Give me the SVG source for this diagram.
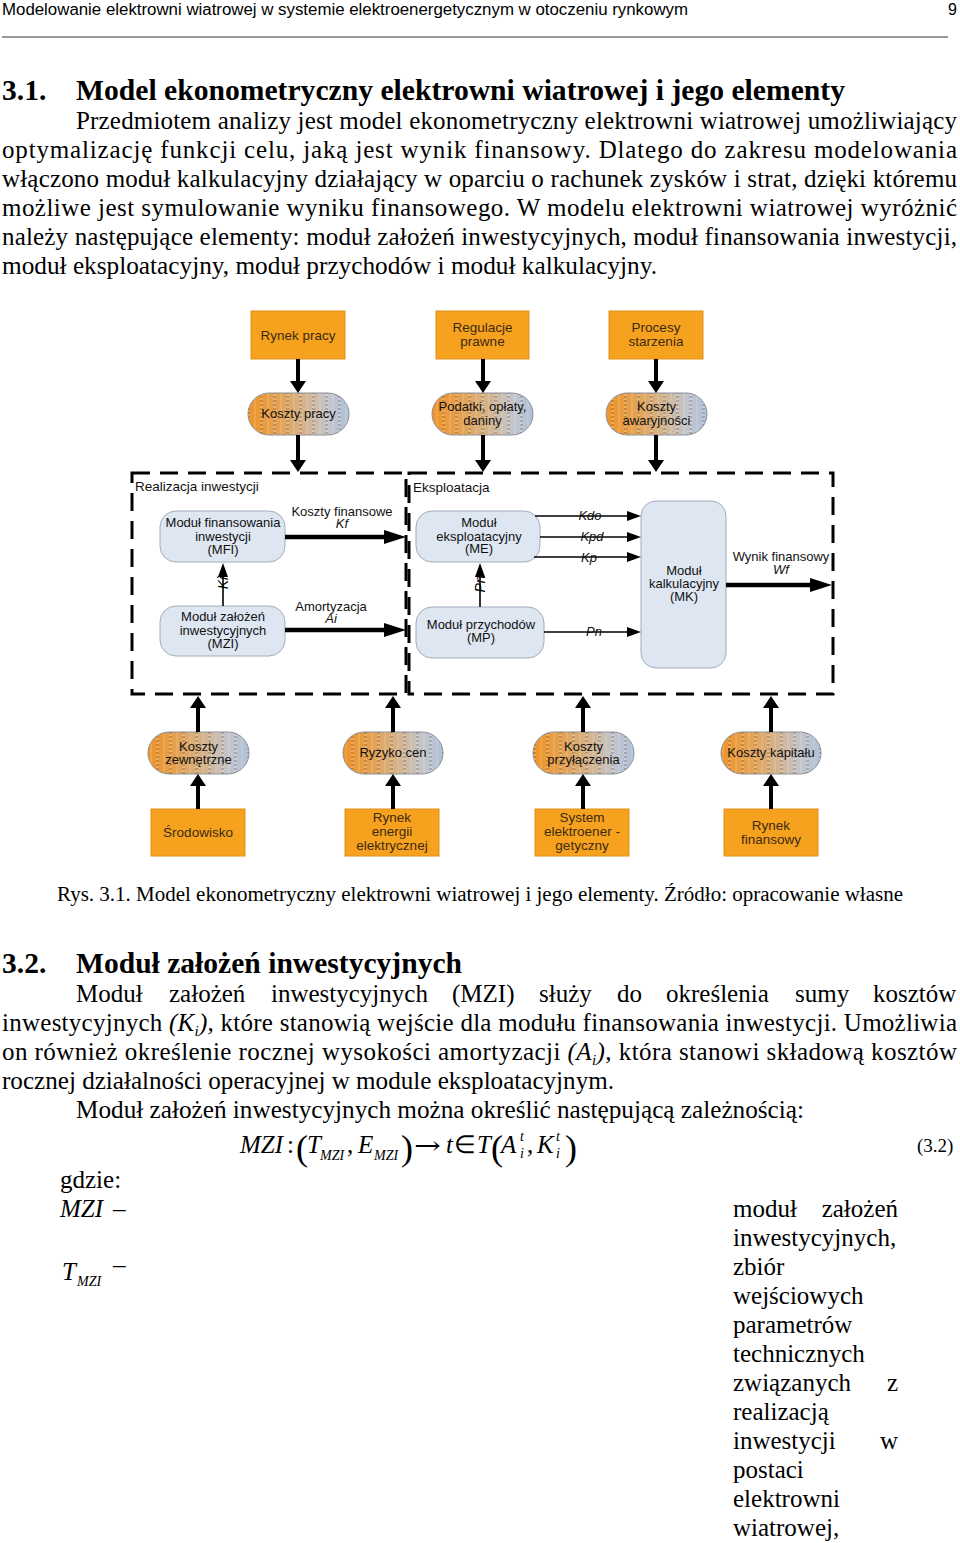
<svg xmlns="http://www.w3.org/2000/svg" width="960" height="1543" viewBox="0 0 960 1543">
<style>
.hdr{font-family:"Liberation Sans",Arial,sans-serif;font-size:16px;fill:#000}
.h{font-family:"Liberation Serif","Times New Roman",serif;font-size:29.5px;font-weight:bold;fill:#000}
.p{font-family:"Liberation Serif","Times New Roman",serif;font-size:25px;fill:#000}
.cap{font-family:"Liberation Serif","Times New Roman",serif;font-size:20px;fill:#000}
.it{font-style:italic}
.sub{font-size:15px}
.sm{font-family:"Liberation Serif","Times New Roman",serif;font-size:14px;font-style:italic;fill:#000}
.d{font-family:"Liberation Sans",Arial,sans-serif;font-size:13px;fill:#111;text-anchor:middle}
.dl{font-family:"Liberation Sans",Arial,sans-serif;font-size:13.5px;fill:#111}
.di{font-family:"Liberation Sans",Arial,sans-serif;font-size:13px;font-style:italic;fill:#111;text-anchor:middle}
.dr{font-family:"Liberation Sans",Arial,sans-serif;font-size:14px;font-style:italic;fill:#000;text-anchor:middle}
.ob{fill:#F7A21E;stroke:#E0901A;stroke-width:1}
.obt{font-family:"Liberation Sans",Arial,sans-serif;font-size:13.5px;fill:#3a2a12;text-anchor:middle}
.capsule{fill:url(#capg);stroke:#8a8f99;stroke-width:1}
.capst{fill:url(#stripes);stroke:none}
.mod{fill:#DEE6F1;stroke:#A3ACBB;stroke-width:1}
.frame{fill:none;stroke:#000;stroke-width:3;stroke-dasharray:18 10}
.aV{stroke:#000;stroke-width:4;fill:none;marker-end:url(#mV)}
.aH{stroke:#000;stroke-width:4.5;fill:none;marker-end:url(#mH)}
.aT{stroke:#000;stroke-width:1.6;fill:none;marker-end:url(#mT)}
</style>
<defs>
<linearGradient id="capg" x1="0" y1="0" x2="1" y2="0">
<stop offset="0" stop-color="#EF9428"/>
<stop offset="0.3" stop-color="#E4A252"/>
<stop offset="0.55" stop-color="#D5B38A"/>
<stop offset="0.8" stop-color="#C2C5CC"/>
<stop offset="1" stop-color="#AFC1D8"/>
</linearGradient>
<pattern id="stripes" patternUnits="userSpaceOnUse" width="13" height="4">
<rect x="0" y="0" width="3" height="2" fill="#5a4630" opacity="0.22"/>
<rect x="0" y="2" width="3" height="2" fill="#ffffff" opacity="0.18"/>
<rect x="7" y="0" width="2" height="4" fill="#ffffff" opacity="0.12"/>
</pattern>
<marker id="mV" markerUnits="userSpaceOnUse" viewBox="0 0 12 16" markerWidth="12" markerHeight="16" refX="0" refY="8" orient="auto"><path d="M0,0 L12,8 L0,16 z" fill="#000"/></marker>
<marker id="mH" markerUnits="userSpaceOnUse" viewBox="0 0 22 14" markerWidth="22" markerHeight="14" refX="0" refY="7" orient="auto"><path d="M0,0 L22,7 L0,14 z" fill="#000"/></marker>
<marker id="mT" markerUnits="userSpaceOnUse" viewBox="0 0 14 10" markerWidth="14" markerHeight="10" refX="0" refY="5" orient="auto"><path d="M0,0 L14,5 L0,10 z" fill="#000"/></marker>
</defs>
<rect x="0" y="0" width="960" height="1543" fill="#fff"/>

<!-- page header -->
<text class="hdr" x="2" y="15" textLength="686" lengthAdjust="spacingAndGlyphs">Modelowanie elektrowni wiatrowej w systemie elektroenergetycznym w otoczeniu rynkowym</text>
<text class="hdr" x="948" y="15">9</text>
<line x1="2" y1="37" x2="948" y2="37" stroke="#000" stroke-width="0.8"/>

<!-- heading 3.1 -->
<text class="h" x="2" y="100">3.1.</text>
<text class="h" x="76" y="100" textLength="769" lengthAdjust="spacingAndGlyphs">Model ekonometryczny elektrowni wiatrowej i jego elementy</text>

<text class="p" x="76" y="129" textLength="881" lengthAdjust="spacing">Przedmiotem analizy jest model ekonometryczny elektrowni wiatrowej umożliwiający</text>
<text class="p" x="2" y="158" textLength="955" lengthAdjust="spacing">optymalizację funkcji celu, jaką jest wynik finansowy. Dlatego do zakresu modelowania</text>
<text class="p" x="2" y="187" textLength="955" lengthAdjust="spacing">włączono moduł kalkulacyjny działający w oparciu o rachunek zysków i strat, dzięki któremu</text>
<text class="p" x="2" y="216" textLength="955" lengthAdjust="spacing">możliwe jest symulowanie wyniku finansowego. W modelu elektrowni wiatrowej wyróżnić</text>
<text class="p" x="2" y="245" textLength="955" lengthAdjust="spacing">należy następujące elementy: moduł założeń inwestycyjnych, moduł finansowania inwestycji,</text>
<text class="p" x="2" y="274" textLength="655" lengthAdjust="spacingAndGlyphs">moduł eksploatacyjny, moduł przychodów i moduł kalkulacyjny.</text>

<!-- ===== diagram ===== -->
<g id="frames">
<path class="frame" d="M132,473 H406 V694 H132 Z"/>
<path class="frame" d="M409,473 H833 V694 H409 Z"/>
<text class="dl" x="135" y="491">Realizacja inwestycji</text>
<text class="dl" x="413" y="492">Eksploatacja</text>
</g>

<g id="n-rynek-pracy"><rect class="ob" x="251" y="311" width="94" height="48"/><text class="obt" x="298" y="340">Rynek pracy</text></g>
<g id="n-regulacje"><rect class="ob" x="436" y="311" width="93" height="48"/><text class="obt" x="482.5" y="332">Regulacje</text><text class="obt" x="482.5" y="346">prawne</text></g>
<g id="n-procesy"><rect class="ob" x="609" y="311" width="94" height="48"/><text class="obt" x="656" y="332">Procesy</text><text class="obt" x="656" y="346">starzenia</text></g>

<g id="n-koszty-pracy"><rect class="capsule" x="248" y="393" width="101" height="42" rx="21"/><rect class="capst" x="248" y="393" width="101" height="42" rx="21"/><text class="d" x="298.5" y="418">Koszty pracy</text></g>
<g id="n-podatki"><rect class="capsule" x="432" y="393" width="101" height="42" rx="21"/><rect class="capst" x="432" y="393" width="101" height="42" rx="21"/><text class="d" x="482.5" y="411">Podatki, opłaty,</text><text class="d" x="482.5" y="425">daniny</text></g>
<g id="n-koszty-awar"><rect class="capsule" x="606" y="393" width="101" height="42" rx="21"/><rect class="capst" x="606" y="393" width="101" height="42" rx="21"/><text class="d" x="656.5" y="411">Koszty</text><text class="d" x="656.5" y="425">awaryjności</text></g>

<g id="n-mfi"><rect class="mod" x="160" y="511" width="125" height="51" rx="16"/><text class="d" x="223" y="527">Moduł finansowania</text><text class="d" x="223" y="541">inwestycji</text><text class="d" x="223" y="554">(MFI)</text></g>
<g id="n-mzi"><rect class="mod" x="160" y="606" width="125" height="50" rx="16"/><text class="d" x="223" y="621">Moduł założeń</text><text class="d" x="223" y="635">inwestycyjnych</text><text class="d" x="223" y="648">(MZI)</text></g>
<g id="n-me"><rect class="mod" x="416" y="511" width="124" height="51" rx="16"/><text class="d" x="479" y="527">Moduł</text><text class="d" x="479" y="541">eksploatacyjny</text><text class="d" x="479" y="553">(ME)</text></g>
<g id="n-mp"><rect class="mod" x="416" y="607" width="128" height="51" rx="16"/><text class="d" x="481" y="629">Moduł przychodów</text><text class="d" x="481" y="642">(MP)</text></g>
<g id="n-mk"><rect class="mod" x="641" y="501" width="85" height="167" rx="15"/><text class="d" x="684" y="575">Moduł</text><text class="d" x="684" y="588">kalkulacyjny</text><text class="d" x="684" y="601">(MK)</text></g>

<g id="n-koszty-zew"><rect class="capsule" x="148" y="732" width="101" height="42" rx="21"/><rect class="capst" x="148" y="732" width="101" height="42" rx="21"/><text class="d" x="198.5" y="751">Koszty</text><text class="d" x="198.5" y="764">zewnętrzne</text></g>
<g id="n-ryzyko"><rect class="capsule" x="343" y="732" width="100" height="42" rx="21"/><rect class="capst" x="343" y="732" width="100" height="42" rx="21"/><text class="d" x="393" y="757">Ryzyko cen</text></g>
<g id="n-koszty-przyl"><rect class="capsule" x="533" y="732" width="101" height="42" rx="21"/><rect class="capst" x="533" y="732" width="101" height="42" rx="21"/><text class="d" x="583.5" y="751">Koszty</text><text class="d" x="583.5" y="764">przyłączenia</text></g>
<g id="n-koszty-kap"><rect class="capsule" x="721" y="732" width="100" height="42" rx="21"/><rect class="capst" x="721" y="732" width="100" height="42" rx="21"/><text class="d" x="771" y="757">Koszty kapitału</text></g>

<g id="n-srodowisko"><rect class="ob" x="151" y="809" width="94" height="47"/><text class="obt" x="198" y="837">Środowisko</text></g>
<g id="n-rynek-energii"><rect class="ob" x="345" y="809" width="94" height="47"/><text class="obt" x="392" y="822">Rynek</text><text class="obt" x="392" y="836">energii</text><text class="obt" x="392" y="850">elektrycznej</text></g>
<g id="n-system"><rect class="ob" x="535" y="809" width="94" height="47"/><text class="obt" x="582" y="822">System</text><text class="obt" x="582" y="836">elektroener -</text><text class="obt" x="582" y="850">getyczny</text></g>
<g id="n-rynek-fin"><rect class="ob" x="724" y="809" width="94" height="47"/><text class="obt" x="771" y="830">Rynek</text><text class="obt" x="771" y="844">finansowy</text></g>

<g id="connectors">
<line class="aV" x1="298" y1="359" x2="298" y2="381"/>
<line class="aV" x1="483" y1="359" x2="483" y2="381"/>
<line class="aV" x1="656" y1="359" x2="656" y2="381"/>
<line class="aV" x1="298" y1="435" x2="298" y2="460"/>
<line class="aV" x1="483" y1="435" x2="483" y2="460"/>
<line class="aV" x1="656" y1="435" x2="656" y2="460"/>

<line class="aV" x1="198" y1="732" x2="198" y2="708"/>
<line class="aV" x1="393" y1="732" x2="393" y2="708"/>
<line class="aV" x1="583" y1="732" x2="583" y2="708"/>
<line class="aV" x1="771" y1="732" x2="771" y2="708"/>
<line class="aV" x1="198" y1="809" x2="198" y2="786"/>
<line class="aV" x1="393" y1="809" x2="393" y2="786"/>
<line class="aV" x1="583" y1="809" x2="583" y2="786"/>
<line class="aV" x1="771" y1="809" x2="771" y2="786"/>

<line class="aH" x1="285" y1="537" x2="384" y2="537"/>
<text class="d" x="342" y="516">Koszty finansowe</text><text class="di" x="342" y="528">Kf</text>
<line class="aH" x1="285" y1="630" x2="384" y2="630"/>
<text class="d" x="331" y="611">Amortyzacja</text><text class="di" x="331" y="623">Ai</text>
<line class="aH" x1="726" y1="585" x2="810" y2="585"/>
<text class="d" x="781" y="561">Wynik finansowy</text><text class="di" x="781" y="574">Wf</text>

<line class="aT" x1="223" y1="606" x2="223" y2="577"/>
<text class="dr" transform="translate(228,583) rotate(-90)" x="0" y="0">Ki</text>
<line class="aT" x1="480" y1="607" x2="480" y2="577"/>
<text class="dr" transform="translate(485,584) rotate(-90)" x="0" y="0">Pn</text>

<line class="aT" x1="535" y1="516" x2="627" y2="516"/>
<text class="di" x="590" y="520">Kdo</text>
<line class="aT" x1="540" y1="537" x2="627" y2="537"/>
<text class="di" x="592" y="541">Kpd</text>
<line class="aT" x1="534" y1="557" x2="627" y2="557"/>
<text class="di" x="589" y="562">Kp</text>
<line class="aT" x1="544" y1="632" x2="627" y2="632"/>
<text class="di" x="594" y="636">Pn</text>
</g>

<!-- caption -->
<text class="cap" x="57" y="901" textLength="846" lengthAdjust="spacingAndGlyphs">Rys. 3.1. Model ekonometryczny elektrowni wiatrowej i jego elementy. Źródło: opracowanie własne</text>

<!-- heading 3.2 -->
<text class="h" x="2" y="973">3.2.</text>
<text class="h" x="76" y="973" textLength="386" lengthAdjust="spacingAndGlyphs">Moduł założeń inwestycyjnych</text>

<text class="p" y="1002"><tspan x="76">Moduł</tspan><tspan x="169">założeń</tspan><tspan x="271">inwestycyjnych</tspan><tspan x="452">(MZI)</tspan><tspan x="539">służy</tspan><tspan x="617">do</tspan><tspan x="666">określenia</tspan><tspan x="795">sumy</tspan><tspan x="873">kosztów</tspan></text>
<text class="p" x="2" y="1031" textLength="955" lengthAdjust="spacing">inwestycyjnych <tspan class="it">(K</tspan><tspan class="it sub" dy="5">i</tspan><tspan class="it" dy="-5">),</tspan> które stanowią wejście dla modułu finansowania inwestycji. Umożliwia</text>
<text class="p" x="2" y="1060" textLength="955" lengthAdjust="spacing">on również określenie rocznej wysokości amortyzacji <tspan class="it">(A</tspan><tspan class="it sub" dy="5">i</tspan><tspan class="it" dy="-5">),</tspan> która stanowi składową kosztów</text>
<text class="p" x="2" y="1089" textLength="612" lengthAdjust="spacingAndGlyphs">rocznej działalności operacyjnej w module eksploatacyjnym.</text>
<text class="p" x="76" y="1118" textLength="728" lengthAdjust="spacingAndGlyphs">Moduł założeń inwestycyjnych można określić następującą zależnością:</text>

<!-- formula -->
<g id="formula" font-family="Liberation Serif,Times New Roman,serif" fill="#000">
<text x="240" y="1153" font-size="25" font-style="italic">MZI</text>
<text x="287" y="1153" font-size="25">:</text>
<text x="296" y="1160" font-size="36">(</text>
<text x="307" y="1153" font-size="25" font-style="italic">T</text>
<text x="320" y="1160" font-size="14" font-style="italic">MZI</text>
<text x="347" y="1153" font-size="25">,</text>
<text x="358" y="1153" font-size="25" font-style="italic">E</text>
<text x="374" y="1160" font-size="14" font-style="italic">MZI</text>
<text x="401" y="1160" font-size="36">)</text>
<text x="414" y="1154" font-size="25" font-family="DejaVu Serif,serif" textLength="27" lengthAdjust="spacingAndGlyphs">→</text>
<text x="446" y="1153" font-size="25" font-style="italic">t</text>
<text x="454" y="1153" font-size="25">∈</text>
<text x="477" y="1153" font-size="25" font-style="italic">T</text>
<text x="491" y="1160" font-size="36">(</text>
<text x="501" y="1153" font-size="25" font-style="italic">A</text>
<text x="520" y="1141" font-size="14" font-style="italic">t</text>
<text x="520" y="1158" font-size="14" font-style="italic">i</text>
<text x="527" y="1153" font-size="25">,</text>
<text x="537" y="1153" font-size="25" font-style="italic">K</text>
<text x="556" y="1141" font-size="14" font-style="italic">t</text>
<text x="556" y="1158" font-size="14" font-style="italic">i</text>
<text x="565" y="1160" font-size="36">)</text>
<text x="917" y="1152" font-size="19">(3.2)</text>
</g>

<text class="p" x="60" y="1188">gdzie:</text>
<text class="p it" x="60" y="1217">MZI</text>
<text class="p" x="113" y="1217">–</text>
<text class="p it" x="62" y="1280">T</text>
<text class="sm" x="77" y="1286">MZI</text>
<text class="p" x="113" y="1273">–</text>

<g id="defcol">
<text class="p" x="733" y="1217">moduł</text><text class="p" x="898" y="1217" text-anchor="end">założeń</text>
<text class="p" x="733" y="1246">inwestycyjnych,</text>
<text class="p" x="733" y="1275">zbiór</text>
<text class="p" x="733" y="1304">wejściowych</text>
<text class="p" x="733" y="1333">parametrów</text>
<text class="p" x="733" y="1362">technicznych</text>
<text class="p" x="733" y="1391">związanych</text><text class="p" x="898" y="1391" text-anchor="end">z</text>
<text class="p" x="733" y="1420">realizacją</text>
<text class="p" x="733" y="1449">inwestycji</text><text class="p" x="898" y="1449" text-anchor="end">w</text>
<text class="p" x="733" y="1478">postaci</text>
<text class="p" x="733" y="1507">elektrowni</text>
<text class="p" x="733" y="1536">wiatrowej,</text>
</g>
</svg>
